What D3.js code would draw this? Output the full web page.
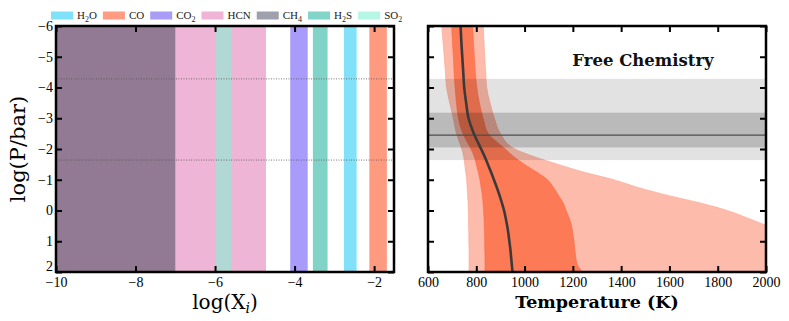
<!DOCTYPE html>
<html>
<head>
<meta charset="utf-8">
<script src="https://cdn.jsdelivr.net/npm/d3@7"></script>
<style>
  body { margin: 0; background: #fff; }
  svg { display: block; }
</style>
</head>
<body>
<div id="chart"></div>
<script>
// ---- data ----
// legend species + colours
var species = ["H2O", "CO", "CO2", "HCN", "CH4", "H2S", "SO2"];
var speciesColors = ["#80e2f8", "#ff9c82", "#a99cf7", "#f0b5d6", "#9ea1ac", "#81d4c8", "#b5f7e4"];

// abundance bands in the left panel (log X), drawn in this order
var bandSpecies = ["HCN", "CH4", "SO2", "CO2", "H2S", "H2O", "CO"];
var bandLo = [-10, -10, -5.98, -4.11, -3.54, -2.76, -2.12];
var bandHi = [-4.72, -7.0, -5.58, -3.67, -3.17, -2.44, -1.68];
var bandFill = ["#efb5d6", "#927a94", "#b1d8d4", "#a99bf9", "#81d3c8", "#80e1f9", "#fe9a80"];

// cloud deck (log P)
var cloudOuter = [-4.28, -1.64];
var cloudInner = [-3.18, -2.05];
var cloudTop = -2.45;

// temperature profile, log P levels
var logP = [-6, -5.5, -5, -4.5, -4, -3.5, -3, -2.5, -2, -1.75, -1.5, -1.25, -1,
            -0.75, -0.5, -0.25, 0, 0.25, 0.5, 0.75, 1, 1.25, 1.5, 1.75, 2];
var tMedian = [735, 738, 742, 746, 750, 758, 768, 790, 820, 835, 848, 861, 873,
               885, 896, 906, 915, 922, 928, 933, 937, 941, 944, 947, 950];
var tLo1 = [698, 701, 705, 708, 712, 718, 726, 745, 778, 792, 800, 808, 815,
            820, 825, 828, 830, 832, 833, 834, 835, 835, 836, 836, 836];
var tHi1 = [785, 788, 792, 796, 802, 813, 828, 850, 920, 955, 1000, 1050, 1095,
            1120, 1140, 1160, 1172, 1185, 1195, 1200, 1205, 1208, 1212, 1218, 1240];
var tLo2 = [657, 662, 667, 672, 677, 690, 705, 718, 740, 748, 752, 756, 760,
            762, 764, 766, 767, 768, 768, 769, 769, 770, 770, 770, 770];
var tHi2 = [829, 832, 835, 839, 843, 857, 875, 900, 960, 1040, 1140, 1245, 1370,
            1470, 1590, 1725, 1840, 1925, 2005, 2060, 2100, 2130, 2150, 2150, 2150];

var xTicksL = [-10, -8, -6, -4, -2];
var yTicks = [-6, -5, -4, -3, -2, -1, 0, 1, 2];
var xTicksR = [600, 800, 1000, 1200, 1400, 1600, 1800, 2000];

// ---- setup ----
var w = 789, h = 321;
var svg = d3.select("#chart").append("svg").attr("width", w).attr("height", h);

var serif = "'Liberation Serif', serif";
var serifWide = "'DejaVu Serif', serif";

var xL = d3.scaleLinear().domain([-10, -1.5]).range([56, 394]);
var yP = d3.scaleLinear().domain([-6, 2]).range([26, 272]);
var xT = d3.scaleLinear().domain([600, 2000]).range([428, 766]);

// writes a chemical formula with subscript digits into a text node
function formula(sel, s) {
    var prevSub = false;
    s.split("").forEach(function(ch) {
        var sub = /[0-9]/.test(ch);
        var t = sel.append("tspan").text(ch);
        if (sub) t.attr("font-size", "8px");
        if (sub && !prevSub) t.attr("dy", 2.5);
        if (!sub && prevSub) t.attr("dy", -2.5);
        prevSub = sub;
    });
}

function styleAxis(g) {
    g.select(".domain").remove();
    g.selectAll(".tick line").attr("stroke", "#000").attr("stroke-width", 2);
    g.selectAll(".tick text").attr("font-family", serif).attr("font-size", "14px").attr("fill", "#000");
}

// ---- left panel ----
var left = svg.append("g");

left.selectAll("rect.band")
    .data(bandSpecies)
    .enter()
    .append("rect")
    .attr("class", "band")
    .attr("x", function(d, i) { return xL(bandLo[i]); })
    .attr("width", function(d, i) { return xL(bandHi[i]) - xL(bandLo[i]); })
    .attr("y", yP(-6))
    .attr("height", yP(2) - yP(-6))
    .attr("fill", function(d, i) { return bandFill[i]; });

left.selectAll("line.cloud")
    .data(cloudOuter)
    .enter()
    .append("line")
    .attr("x1", xL(-10)).attr("x2", xL(-1.5))
    .attr("y1", yP).attr("y2", yP)
    .attr("stroke", "#555")
    .attr("stroke-width", 0.8)
    .attr("stroke-dasharray", "1,1.5");

left.append("g")
    .attr("transform", "translate(0," + yP(2) + ")")
    .call(d3.axisBottom(xL).tickValues(xTicksL).tickSize(-6).tickPadding(5).tickFormat(d3.format("d")))
    .call(styleAxis);
left.append("g")
    .attr("transform", "translate(0," + yP(-6) + ")")
    .call(d3.axisTop(xL).tickValues(xTicksL).tickSize(-6).tickFormat(""))
    .call(styleAxis);
var yAx = left.append("g")
    .attr("transform", "translate(" + xL(-10) + ",0)")
    .call(d3.axisLeft(yP).tickValues(yTicks).tickSize(-6).tickPadding(3).tickFormat(d3.format("d")))
    .call(styleAxis);
// bottom label sits a touch higher so it clears the x labels
yAx.selectAll(".tick text").filter(function(d) { return d === 2; }).attr("dy", "-0.1em");
left.append("g")
    .attr("transform", "translate(" + xL(-1.5) + ",0)")
    .call(d3.axisRight(yP).tickValues(yTicks).tickSize(-6).tickFormat(""))
    .call(styleAxis);

left.append("rect")
    .attr("x", xL(-10)).attr("y", yP(-6))
    .attr("width", xL(-1.5) - xL(-10)).attr("height", yP(2) - yP(-6))
    .attr("fill", "none").attr("stroke", "#000").attr("stroke-width", 2.5);

// axis titles
svg.append("text")
    .attr("transform", "translate(25," + yP(-2) + ")rotate(-90)")
    .attr("text-anchor", "middle")
    .attr("font-family", serifWide)
    .attr("font-size", "21px")
    .text("log(P/bar)");

var xl = svg.append("text")
    .attr("x", (xL(-10) + xL(-1.5)) / 2)
    .attr("y", 309)
    .attr("text-anchor", "middle")
    .attr("font-family", serifWide)
    .attr("font-size", "20px");
xl.append("tspan").text("log(X");
xl.append("tspan").text("i").attr("font-style", "italic").attr("font-size", "14px").attr("dy", 4);
xl.append("tspan").text(")").attr("dy", -4);

// legend
var lx = 51;
species.forEach(function(s, i) {
    var g = svg.append("g").attr("transform", "translate(" + lx + ",0)");
    g.append("rect").attr("x", 0).attr("y", 11.5).attr("width", 22).attr("height", 8)
        .attr("fill", speciesColors[i]);
    var t = g.append("text").attr("x", 26).attr("y", 19)
        .attr("font-family", serif).attr("font-size", "11px").attr("fill", "#222");
    formula(t, s);
    lx += 26 + t.node().getComputedTextLength() + 6;
});

// ---- right panel ----
var right = svg.append("g");

right.append("clipPath").attr("id", "clipR")
    .append("rect")
    .attr("x", xT(600)).attr("y", yP(-6))
    .attr("width", xT(2000) - xT(600)).attr("height", yP(2) - yP(-6));

var plot = right.append("g").attr("clip-path", "url(#clipR)");

var prof = logP.map(function(p, i) {
    return { p: p, med: tMedian[i], lo1: tLo1[i], hi1: tHi1[i], lo2: tLo2[i], hi2: tHi2[i] };
});

var area2 = d3.area()
    .y(function(d) { return yP(d.p); })
    .x0(function(d) { return xT(d.lo2); })
    .x1(function(d) { return xT(d.hi2); })
    .curve(d3.curveMonotoneY);
var area1 = d3.area()
    .y(function(d) { return yP(d.p); })
    .x0(function(d) { return xT(d.lo1); })
    .x1(function(d) { return xT(d.hi1); })
    .curve(d3.curveMonotoneY);
var medLine = d3.line()
    .y(function(d) { return yP(d.p); })
    .x(function(d) { return xT(d.med); })
    .curve(d3.curveMonotoneY);

plot.append("path").datum(prof).attr("d", area2).attr("fill", "#fdbcab")
    .attr("stroke", "#fca58f").attr("stroke-width", 0.6);
plot.append("path").datum(prof).attr("d", area1).attr("fill", "#fd7a56")
    .attr("stroke", "#f86a45").attr("stroke-width", 0.6);

// cloud deck shading
plot.append("rect")
    .attr("x", xT(600)).attr("width", xT(2000) - xT(600))
    .attr("y", yP(cloudOuter[0])).attr("height", yP(cloudOuter[1]) - yP(cloudOuter[0]))
    .attr("fill", "#000").attr("fill-opacity", 0.115);
plot.append("rect")
    .attr("x", xT(600)).attr("width", xT(2000) - xT(600))
    .attr("y", yP(cloudInner[0])).attr("height", yP(cloudInner[1]) - yP(cloudInner[0]))
    .attr("fill", "#000").attr("fill-opacity", 0.175);
plot.append("line")
    .attr("x1", xT(600)).attr("x2", xT(2000))
    .attr("y1", yP(cloudTop)).attr("y2", yP(cloudTop))
    .attr("stroke", "#4d4d4d").attr("stroke-width", 1.2);

plot.append("path").datum(prof).attr("d", medLine)
    .attr("fill", "none").attr("stroke", "#3a3a3a").attr("stroke-width", 2.6);

right.append("text")
    .attr("x", 643).attr("y", 66)
    .attr("text-anchor", "middle")
    .attr("font-family", serifWide)
    .attr("font-weight", "bold")
    .attr("font-size", "16.5px")
    .attr("fill", "#111")
    .text("Free Chemistry");

right.append("g")
    .attr("transform", "translate(0," + yP(2) + ")")
    .call(d3.axisBottom(xT).tickValues(xTicksR).tickSize(-6).tickPadding(5).tickFormat(d3.format("d")))
    .call(styleAxis);
right.append("g")
    .attr("transform", "translate(0," + yP(-6) + ")")
    .call(d3.axisTop(xT).tickValues(xTicksR).tickSize(-6).tickFormat(""))
    .call(styleAxis);
right.append("g")
    .attr("transform", "translate(" + xT(600) + ",0)")
    .call(d3.axisLeft(yP).tickValues(yTicks).tickSize(-6).tickFormat(""))
    .call(styleAxis);
right.append("g")
    .attr("transform", "translate(" + xT(2000) + ",0)")
    .call(d3.axisRight(yP).tickValues(yTicks).tickSize(-6).tickFormat(""))
    .call(styleAxis);

right.append("rect")
    .attr("x", xT(600)).attr("y", yP(-6))
    .attr("width", xT(2000) - xT(600)).attr("height", yP(2) - yP(-6))
    .attr("fill", "none").attr("stroke", "#000").attr("stroke-width", 2.5);

svg.append("text")
    .attr("x", (xT(600) + xT(2000)) / 2)
    .attr("y", 308)
    .attr("text-anchor", "middle")
    .attr("font-family", serifWide)
    .attr("font-weight", "bold")
    .attr("font-size", "17.5px")
    .text("Temperature (K)");
</script>
</body>
</html>
